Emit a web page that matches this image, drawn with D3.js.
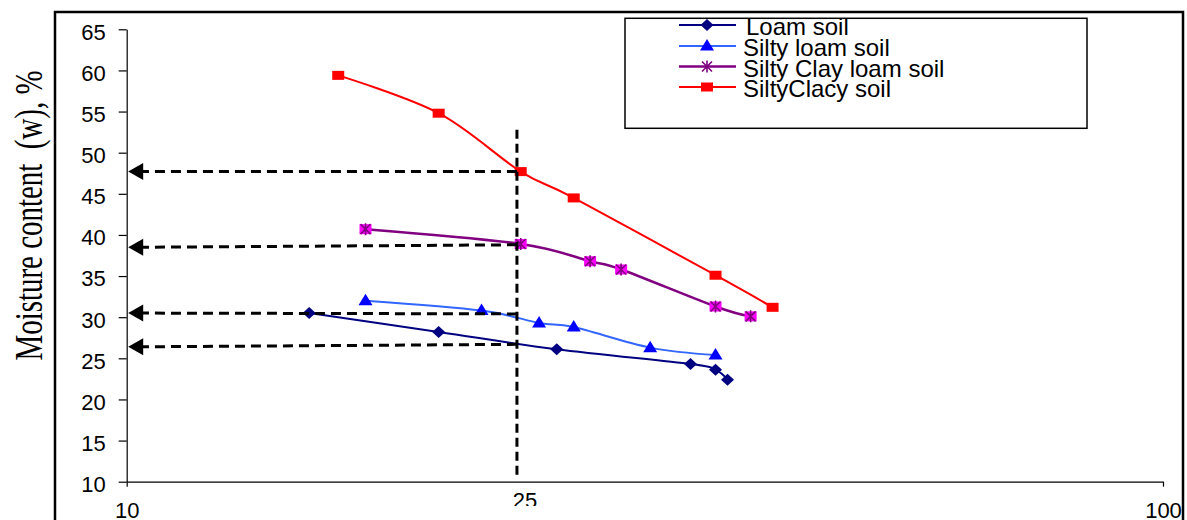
<!DOCTYPE html>
<html><head><meta charset="utf-8">
<script src="https://cdn.jsdelivr.net/npm/d3@7"></script>
<style>body{margin:0;background:#fff} svg{display:block}</style>
</head><body>
<svg id="c" width="1187" height="520"></svg>
<script>
// ---- data ----
const loamX = [15, 20, 26, 35, 37, 38];
const loamY = [30.5, 28.2, 26.1, 24.3, 23.6, 22.4];
const siltyLoamX = [17, 22, 25, 27, 32, 37];
const siltyLoamY = [32.0, 30.8, 29.3, 28.8, 26.3, 25.4];
const siltyClayLoamX = [17, 24, 28, 30, 37, 40];
const siltyClayLoamY = [40.7, 38.9, 36.8, 35.8, 31.3, 30.1];
const siltyClayX = [16, 20, 24, 27, 37, 42];
const siltyClayY = [59.4, 54.8, 47.7, 44.5, 35.1, 31.2];
const seriesNames = ["Loam soil", "Silty loam soil", "Silty Clay loam soil", "SiltyClacy soil"];
const yTicks = [10, 15, 20, 25, 30, 35, 40, 45, 50, 55, 60, 65];
const xTicks = [10, 100];
const markerX = 23.8;
const markerLabel = "25";
const markerYRange = [10.8, 52.8];
const arrowTipY = [47.7, 38.5, 30.5, 26.4];
const arrowEndY = [47.7, 38.8, 30.4, 26.7];
const yTitle = "Moisture content  (w), %";

// ---- setup ----
const svg = d3.select("#c");
svg.append("rect").attr("width", 1187).attr("height", 520).attr("fill", "#fff");
svg.append("rect").attr("x", 55).attr("y", 12).attr("width", 1128).attr("height", 600)
  .attr("fill", "none").attr("stroke", "#000").attr("stroke-width", 2.5);

const x = d3.scaleLog().domain([10, 100]).range([126.7, 1163]);
const y = d3.scaleLinear().domain([10, 65]).range([481.7, 29.3]);
const SANS = "'Liberation Sans', Arial, sans-serif";

// y axis
const ya = svg.append("g").attr("transform", `translate(${x(10)},0)`)
  .call(d3.axisLeft(y).tickValues(yTicks).tickSize(8).tickSizeOuter(0).tickPadding(13));
ya.selectAll("text").attr("font-family", SANS).attr("font-size", 22).attr("fill", "#000").attr("dy", "0.45em");
ya.selectAll("line,path").attr("stroke", "#000").attr("stroke-width", 1.2);

// x axis
const xa = svg.append("g").attr("transform", `translate(0,${y(10)})`)
  .call(d3.axisBottom(x).tickValues(xTicks).tickFormat(d3.format("d")).tickSize(5).tickSizeOuter(0).tickPadding(16));
xa.selectAll("text").attr("font-family", SANS).attr("font-size", 22).attr("fill", "#000");
xa.selectAll("line,path").attr("stroke", "#000").attr("stroke-width", 1.2);

// y title
svg.append("text")
  .attr("transform", `translate(41.7,${(y(10) + y(65)) / 2 - 40}) rotate(-90)`)
  .attr("text-anchor", "middle")
  .attr("font-family", "'Liberation Serif', 'Times New Roman', serif")
  .attr("font-size", 40)
  .style("white-space", "pre")
  .attr("textLength", 290).attr("lengthAdjust", "spacingAndGlyphs")
  .text(yTitle);

// ---- markers ----
function diamond(g, cx, cy) {
  g.append("path").attr("d", `M${cx},${cy - 6}L${cx + 6.5},${cy}L${cx},${cy + 6}L${cx - 6.5},${cy}Z`)
    .attr("fill", "#000080");
}
function triangle(g, cx, cy) {
  g.append("path").attr("d", `M${cx},${cy - 7}L${cx + 7},${cy + 4.5}L${cx - 7},${cy + 4.5}Z`)
    .attr("fill", "#0000FF");
}
function star(g, cx, cy, fill) {
  if (fill) g.append("rect").attr("x", cx - 6).attr("y", cy - 5).attr("width", 12).attr("height", 10)
    .attr("fill", "#FF00FF");
  g.append("path").attr("d",
    `M${cx - 5},${cy - 5}L${cx + 5},${cy + 5}M${cx + 5},${cy - 5}L${cx - 5},${cy + 5}M${cx},${cy - 6}L${cx},${cy + 6}`)
    .attr("stroke", "#800080").attr("stroke-width", 1.6).attr("fill", "none");
}
function square(g, cx, cy) {
  g.append("rect").attr("x", cx - 6).attr("y", cy - 4.5).attr("width", 12).attr("height", 9).attr("fill", "#FF0000");
}

const series = [
  { xs: loamX, ys: loamY, color: "#000080", w: 2, mk: (g, a, b) => diamond(g, a, b) },
  { xs: siltyLoamX, ys: siltyLoamY, color: "#3366FF", w: 2, mk: (g, a, b) => triangle(g, a, b) },
  { xs: siltyClayLoamX, ys: siltyClayLoamY, color: "#800080", w: 2.5, mk: (g, a, b, leg) => star(g, a, b, !leg) },
  { xs: siltyClayX, ys: siltyClayY, color: "#FF0000", w: 2, mk: (g, a, b) => square(g, a, b) }
];

const line = d3.line().x(d => x(d[0])).y(d => y(d[1])).curve(d3.curveCatmullRom.alpha(0));
const lg = svg.append("g");
const mg = svg.append("g");
series.forEach(s => {
  const pts = s.xs.map((v, i) => [v, s.ys[i]]);
  lg.append("path").attr("d", line(pts)).attr("fill", "none").attr("stroke", s.color).attr("stroke-width", s.w);
  pts.forEach(p => s.mk(mg, x(p[0]), y(p[1]), false));
});

// ---- dashed guides ----
const dg = svg.append("g");
dg.append("line").attr("x1", x(markerX)).attr("x2", x(markerX))
  .attr("y1", y(markerYRange[1])).attr("y2", y(markerYRange[0]))
  .attr("stroke", "#000").attr("stroke-width", 3).attr("stroke-dasharray", "9,5");
arrowTipY.forEach((v, i) => {
  const tx = x(10) + 1.5, ty = y(v);
  dg.append("line").attr("x1", x(markerX)).attr("y1", y(arrowEndY[i]))
    .attr("x2", tx + 14).attr("y2", ty)
    .attr("stroke", "#000").attr("stroke-width", 3).attr("stroke-dasharray", "10,6");
  dg.append("path").attr("d", `M${tx},${ty}L${tx + 15},${ty - 8.5}L${tx + 15},${ty + 8.5}Z`).attr("fill", "#000");
});
svg.append("clipPath").attr("id", "lblclip").append("rect").attr("x", 0).attr("y", 0).attr("width", 1187).attr("height", 506);
svg.append("text").attr("x", x(markerX) + 8).attr("y", 508).attr("text-anchor", "middle")
  .attr("clip-path", "url(#lblclip)")
  .attr("font-family", SANS).attr("font-size", 22).text(markerLabel);

// ---- legend ----
const leg = svg.append("g");
leg.append("rect").attr("x", 625).attr("y", 18.3).attr("width", 462).attr("height", 110)
  .attr("fill", "#fff").attr("stroke", "#000").attr("stroke-width", 1.5);
const rowY = [25, 46, 66.5, 87];
series.forEach((s, i) => {
  const ry = rowY[i];
  leg.append("line").attr("x1", 679).attr("x2", 736).attr("y1", ry).attr("y2", ry)
    .attr("stroke", s.color).attr("stroke-width", s.w);
  s.mk(leg, 707, ry, true);
  leg.append("text").attr("x", i === 0 ? 746 : 743).attr("y", ry + 10)
    .attr("font-family", SANS).attr("font-size", 24).text(seriesNames[i]);
});
</script>
</body></html>
